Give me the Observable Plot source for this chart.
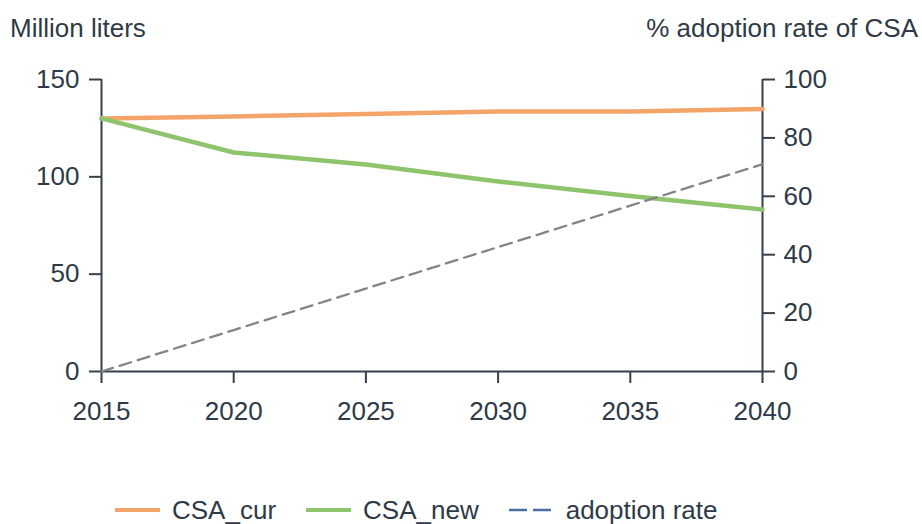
<!DOCTYPE html>
<html>
<head>
<meta charset="utf-8">
<script src="https://cdn.jsdelivr.net/npm/d3@7"></script>
<script src="https://cdn.jsdelivr.net/npm/@observablehq/plot@0.6"></script>
<style>
  html, body { margin: 0; padding: 0; background: #fff; }
  #wrap { position: relative; width: 922px; height: 524px; font-family: "Liberation Sans", Arial, sans-serif; color: #2e3a46; }
  #hdr { position: relative; height: 60px; font-size: 26px; }
  #hdr span { position: absolute; top: 13px; white-space: nowrap; }
  #legend { position: absolute; left: 115px; top: 497px; height: 26px; line-height: 26px; display: flex; align-items: center; font-size: 26px; white-space: nowrap; }
  #legend .item { display: flex; align-items: center; margin-right: 30px; }
  #legend svg { margin-right: 12px; }
</style>
</head>
<body>
<div id="wrap">
  <div id="hdr">
    <span style="left:10px">Million liters</span>
    <span style="right:4px">% adoption rate of CSA</span>
  </div>
  <div id="chart"></div>
  <div id="legend"></div>
</div>
<script>
const years = [2015, 2020, 2025, 2030, 2035, 2040];
const csaCur = [130, 131, 132.3, 133.6, 133.6, 134.8];
const csaNew = [130, 112.5, 106.3, 97.6, 90.2, 83.2];
const adoptionRate = [0, 14.2, 28.4, 42.6, 56.8, 71];
const leftTicks = [0, 50, 100, 150];
const rightTicks = [0, 20, 40, 60, 80, 100];
const seriesNames = ["CSA_cur", "CSA_new", "adoption rate"];
const seriesColors = ["#f3a468", "#8ec46b", "#4a6fa5"];
const rateLineColor = "#848484";

const ratio = 150 / 100; // right axis (0-100) mapped onto left axis (0-150)

const cur = years.map((x, i) => ({x, v: csaCur[i]}));
const nw = years.map((x, i) => ({x, v: csaNew[i]}));
const rate = years.map((x, i) => ({x, v: adoptionRate[i]}));

const axisColor = "#36414c";

const chart = Plot.plot({
  width: 922,
  height: 420,
  marginLeft: 101,
  marginRight: 160,
  marginTop: 19,
  marginBottom: 109,
  x: {domain: [2015, 2040]},
  y: {domain: [0, 150]},
  style: {fontFamily: "'Liberation Sans', Arial, sans-serif", fontSize: "26px", color: "#2e3a46", background: "#fff"},
  marks: [
    Plot.axisX({ticks: years, tickFormat: d => String(d), tickSize: 12, tickPadding: 18, strokeWidth: 2, stroke: axisColor, label: null}),
    Plot.axisY({ticks: leftTicks, tickSize: 12, tickPadding: 10, strokeWidth: 2, stroke: axisColor, label: null}),
    Plot.axisY({anchor: "right", ticks: rightTicks.map(t => t * ratio), tickFormat: d => String(Math.round(d / ratio)), tickSize: 12, tickPadding: 9, strokeWidth: 2, stroke: axisColor, label: null}),
    Plot.ruleY([0], {stroke: axisColor, strokeWidth: 2}),
    Plot.ruleX([2015], {y1: 0, y2: 150, stroke: axisColor, strokeWidth: 2}),
    Plot.ruleX([2040], {y1: 0, y2: 150, stroke: axisColor, strokeWidth: 2}),
    Plot.line(cur, {x: "x", y: "v", stroke: seriesColors[0], strokeWidth: 4.5}),
    Plot.line(nw, {x: "x", y: "v", stroke: seriesColors[1], strokeWidth: 4.5}),
    Plot.line(rate, {x: "x", y: d => d.v * ratio, stroke: rateLineColor, strokeWidth: 2.3, strokeDasharray: "12,7"})
  ]
});
document.getElementById("chart").appendChild(chart);

// Legend
const legend = document.getElementById("legend");
seriesNames.forEach((name, i) => {
  const item = document.createElement("div");
  item.className = "item";
  const dashed = i === 2;
  item.innerHTML = `<svg width="45" height="10"><line x1="0" x2="45" y1="5" y2="5" stroke="${seriesColors[i]}" stroke-width="${dashed ? 2.5 : 4}" ${dashed ? 'stroke-dasharray="18,6"' : ''}/></svg><span>${name}</span>`;
  legend.appendChild(item);
});
</script>
</body>
</html>
